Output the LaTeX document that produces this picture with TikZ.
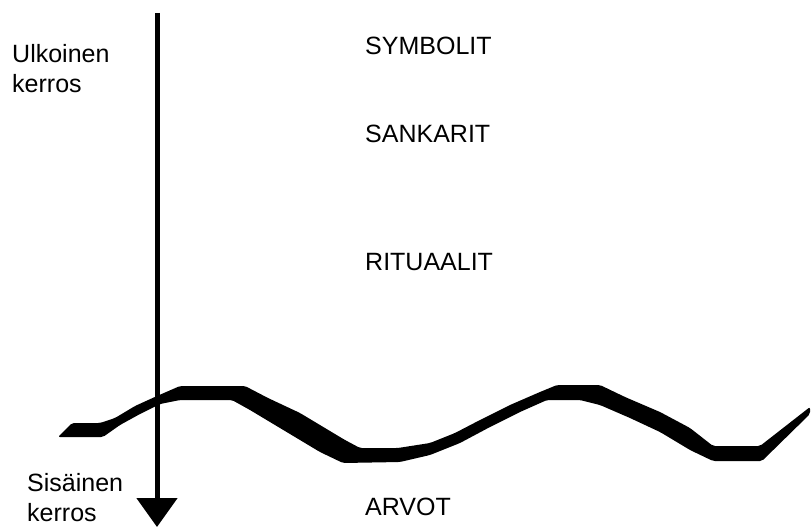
\documentclass[tikz,border=0pt]{standalone}
\usepackage{fontspec}
\setmainfont{Liberation Sans}
\usepackage{xcolor}
\definecolor{cInk}{HTML}{000000}
\usetikzlibrary{arrows.meta}
\tikzset{
  layer-label/.style={anchor=north west,inner sep=0pt,align=left,
    text=cInk,font=\fontsize{25}{30}\selectfont},
  level-label/.style={anchor=base west,inner sep=0pt,
    text=cInk,font=\fontsize{25}{30}\selectfont},
  arrow-depth/.style={-{Triangle[width=40pt,length=29pt]},line width=5pt,draw=cInk},
  wave-line/.style={fill=cInk,rounded corners=2pt},
}
\begin{document}
\begin{tikzpicture}[x=1pt,y=-1pt]
  \useasboundingbox[fill=white] (0,0) rectangle (811,527);
  % kerrokset vasemmalla
  \node[layer-label] (outer) at (12,44) {Ulkoinen\\kerros};
  \node[layer-label] (inner) at (27,473) {Sisäinen\\kerros};
  % tasot
  \node[level-label] (sym) at (365,55)  {SYMBOLIT};
  \node[level-label] (san) at (365,142) {SANKARIT};
  \node[level-label] (rit) at (365,270) {RITUAALIT};
  \node[level-label] (arv) at (365,515) {ARVOT};
  % syvyysnuoli
  \coordinate (top) at (157,13);
  \coordinate (bottom) at (157,527);
  \draw[arrow-depth] (top) -- (bottom);
  % aaltoviiva
  \fill[wave-line] (58,437) -- (72,423) -- (100,423) -- (115,418) -- (135,406)
    -- (157,396) -- (180,386) -- (245,386) -- (268,398) -- (300,413)
    -- (325,428) -- (345,440) -- (360,448) -- (398,448) -- (430,443)
    -- (455,433) -- (480,420) -- (510,405) -- (540,392) -- (557,385)
    -- (600,385) -- (625,397) -- (660,412) -- (690,428) -- (713,446)
    -- (760,446) -- (810,407) -- (810,414) -- (762,461) -- (713,461)
    -- (690,450) -- (660,432) -- (630,418) -- (600,405) -- (580,400)
    -- (547,400) -- (520,412) -- (490,427) -- (460,443) -- (430,455)
    -- (400,462) -- (343,463) -- (320,452) -- (300,440) -- (275,425)
    -- (250,410) -- (232,400) -- (180,400) -- (160,404) -- (140,414)
    -- (120,425) -- (103,437) -- cycle;
\end{tikzpicture}
\end{document}
